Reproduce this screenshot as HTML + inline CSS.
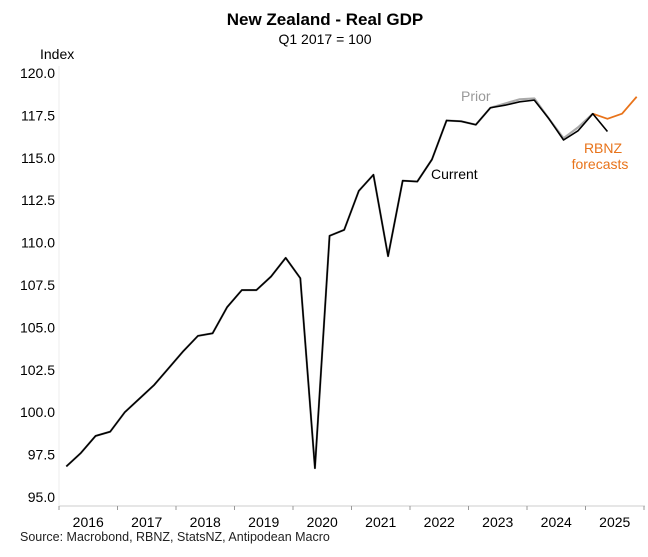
<!DOCTYPE html>
<html><head><meta charset="utf-8"><style>
body{margin:0;background:#fff;font-family:"Liberation Sans",Arial,sans-serif}
svg text{font-family:"Liberation Sans",Arial,sans-serif}
</style></head><body>
<svg id="c" width="648" height="552">
<text x="325" y="25" text-anchor="middle" font-size="17" font-weight="bold">New Zealand - Real GDP</text>
<text x="325" y="44" text-anchor="middle" font-size="14">Q1 2017 = 100</text>
<text x="40" y="59" font-size="14">Index</text>
<text x="20" y="541" font-size="12.5" fill="#222">Source: Macrobond, RBNZ, StatsNZ, Antipodean Macro</text>
<text x="461" y="101" font-size="14" fill="#999">Prior</text>
<text x="431" y="179" font-size="14">Current</text>
<text x="603" y="153" text-anchor="middle" font-size="14" fill="#e8731a">RBNZ</text>
<text x="600" y="169" text-anchor="middle" font-size="14" fill="#e8731a">forecasts</text>
</svg>
<script>
const yTicks=[95.0,97.5,100.0,102.5,105.0,107.5,110.0,112.5,115.0,117.5,120.0];
const years=[2016,2017,2018,2019,2020,2021,2022,2023,2024,2025];
const current=[96.8,97.6,98.6,98.85,100.0,100.8,101.6,102.6,103.6,104.5,104.65,106.2,107.2,107.2,108.0,109.1,107.9,96.7,110.4,110.75,113.05,114.0,109.2,113.65,113.6,114.9,117.2,117.15,116.95,117.95,118.1,118.3,118.4,117.3,116.05,116.6,117.6,116.55];
const prior=[96.8,97.6,98.6,98.85,100.0,100.8,101.6,102.6,103.6,104.5,104.65,106.2,107.2,107.2,108.0,109.1,107.9,96.7,110.4,110.75,113.05,114.0,109.2,113.65,113.6,114.9,117.2,117.15,116.95,117.95,118.2,118.45,118.5,117.3,116.15,116.8,117.6];
const forecast=[117.6,117.3,117.6,118.6];
const forecastStart=36;
const svg=document.getElementById('c');const NS='http://www.w3.org/2000/svg';
const x0=59,yw=58.5;
function xq(i){return x0+yw*(i+0.5)/4;}
function y(v){return 497-(v-95)*424/25;}
function el(t,a){const e=document.createElementNS(NS,t);for(const k in a)e.setAttribute(k,a[k]);svg.appendChild(e);return e;}
let ax=el('line',{x1:x0,y1:506,x2:645,y2:506,stroke:'#ccc'});


let ay=el('line',{x1:x0,y1:66,x2:x0,y2:506,stroke:'#eee'});


yTicks.forEach(v=>{const t=el('text',{x:55,y:y(v)+5,'text-anchor':'end','font-size':14});t.textContent=v.toFixed(1);

});
years.forEach((yr,i)=>{const tk=el('line',{x1:x0+yw*i,y1:506,x2:x0+yw*i,y2:510,stroke:'#999'});


const t=el('text',{x:x0+yw*(i+0.5),y:527,'text-anchor':'middle','font-size':14});t.textContent=yr;

});
let tk2=el('line',{x1:x0+yw*10,y1:506,x2:x0+yw*10,y2:510,stroke:'#999'});


function line(arr,off,col,w,name){const p=el('polyline',{points:arr.map((v,i)=>xq(i+off)+','+y(v)).join(' '),fill:'none',stroke:col,'stroke-width':w,'stroke-linejoin':'round'});

}
line(prior,0,'#aaa',2.2,'prior-line');
line(forecast,forecastStart,'#e8731a',1.8,'forecast-line');
line(current,0,'#000',1.6,'current-line');
</script>
</body></html>
